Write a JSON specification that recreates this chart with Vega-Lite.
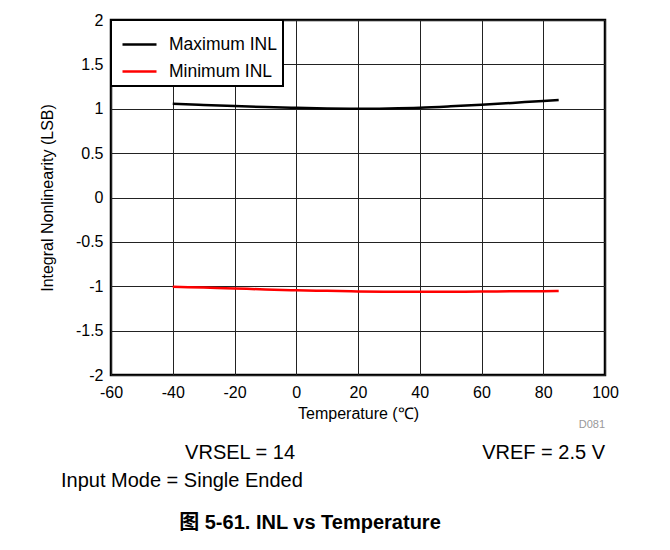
{
  "$schema": "https://vega.github.io/schema/vega-lite/v6.json",
  "width": 494,
  "height": 355,
  "autosize": {"type": "none"},
  "padding": {"left": 111, "top": 20, "right": 65, "bottom": 175},
  "background": "white",
  "config": {
    "font": "Liberation Sans",
    "view": {"stroke": "black", "strokeWidth": 2.5},
    "legend": {"strokeWidth": 2},
    "axis": {
      "grid": true,
      "gridColor": "#222222",
      "gridOpacity": 1,
      "gridWidth": 1,
      "ticks": false,
      "domain": false,
      "labelFontSize": 16,
      "labelColor": "black",
      "labelFont": "Liberation Sans",
      "titleFont": "Liberation Sans",
      "titleFontSize": 16,
      "titleFontWeight": "normal",
      "titleColor": "black",
      "labelExpr": "toString(datum.value)"
    },
    "text": {"font": "Liberation Sans, Noto Sans CJK SC", "color": "black"}
  },
  "datasets": {
    "inl": [
      {"t": -40, "v": 1.055, "s": "Maximum INL"},
      {"t": -30, "v": 1.042, "s": "Maximum INL"},
      {"t": -20, "v": 1.03, "s": "Maximum INL"},
      {"t": -10, "v": 1.019, "s": "Maximum INL"},
      {"t": 0, "v": 1.01, "s": "Maximum INL"},
      {"t": 10, "v": 1.003, "s": "Maximum INL"},
      {"t": 20, "v": 1.0, "s": "Maximum INL"},
      {"t": 30, "v": 1.004, "s": "Maximum INL"},
      {"t": 40, "v": 1.012, "s": "Maximum INL"},
      {"t": 50, "v": 1.027, "s": "Maximum INL"},
      {"t": 60, "v": 1.045, "s": "Maximum INL"},
      {"t": 70, "v": 1.066, "s": "Maximum INL"},
      {"t": 80, "v": 1.088, "s": "Maximum INL"},
      {"t": 85, "v": 1.098, "s": "Maximum INL"},
      {"t": -40, "v": -1.005, "s": "Minimum INL"},
      {"t": -30, "v": -1.015, "s": "Minimum INL"},
      {"t": -20, "v": -1.025, "s": "Minimum INL"},
      {"t": -10, "v": -1.036, "s": "Minimum INL"},
      {"t": 0, "v": -1.045, "s": "Minimum INL"},
      {"t": 10, "v": -1.052, "s": "Minimum INL"},
      {"t": 20, "v": -1.058, "s": "Minimum INL"},
      {"t": 30, "v": -1.062, "s": "Minimum INL"},
      {"t": 40, "v": -1.063, "s": "Minimum INL"},
      {"t": 50, "v": -1.062, "s": "Minimum INL"},
      {"t": 60, "v": -1.06, "s": "Minimum INL"},
      {"t": 70, "v": -1.057, "s": "Minimum INL"},
      {"t": 80, "v": -1.055, "s": "Minimum INL"},
      {"t": 85, "v": -1.053, "s": "Minimum INL"}
    ],
    "one": [{}]
  },
  "layer": [
    {
      "data": {"name": "inl"},
      "mark": {"type": "line", "strokeWidth": 2.5, "interpolate": "monotone"},
      "encoding": {
        "x": {
          "field": "t",
          "type": "quantitative",
          "scale": {"domain": [-60, 100], "nice": false, "zero": false},
          "axis": {"title": "Temperature (℃)", "values": [-60, -40, -20, 0, 20, 40, 60, 80, 100], "labelPadding": 9, "titlePadding": 5, "labelFlush": false}
        },
        "y": {
          "field": "v",
          "type": "quantitative",
          "scale": {"domain": [-2, 2], "nice": false},
          "axis": {"title": "Integral Nonlinearity (LSB)", "values": [-2, -1.5, -1, -0.5, 0, 0.5, 1, 1.5, 2], "labelPadding": 8, "titlePadding": 20, "labelFlush": false}
        },
        "color": {
          "field": "s",
          "type": "nominal",
          "scale": {"domain": ["Maximum INL", "Minimum INL"], "range": ["#000000", "#ff0000"]},
          "legend": {
            "title": null,
            "orient": "top-left",
            "offset": 0,
            "padding": 6,
            "strokeColor": "black",
            "fillColor": "white",
            "symbolType": "stroke",
            "symbolSize": 1156,
            "symbolStrokeWidth": 2.5,
            "symbolOffset": 4,
            "labelFontSize": 17.5,
            "labelFont": "Liberation Sans",
            "labelColor": "black",
            "labelOffset": 11,
            "rowPadding": -14,
            "labelLimit": 300
          }
        }
      }
    },
    {
      "data": {"name": "one"},
      "mark": {"type": "text", "fontSize": 11, "color": "#999999", "align": "right", "baseline": "middle"},
      "encoding": {
        "x": {"datum": 100, "type": "quantitative"},
        "y": {"datum": -2.563, "type": "quantitative"},
        "text": {"value": "D081"}
      }
    },
    {
      "data": {"name": "one"},
      "mark": {"type": "text", "fontSize": 20, "align": "center", "baseline": "middle"},
      "encoding": {
        "x": {"datum": -18.2, "type": "quantitative"},
        "y": {"datum": -2.879, "type": "quantitative"},
        "text": {"value": "VRSEL = 14"}
      }
    },
    {
      "data": {"name": "one"},
      "mark": {"type": "text", "fontSize": 20, "align": "right", "baseline": "middle"},
      "encoding": {
        "x": {"datum": 100, "type": "quantitative"},
        "y": {"datum": -2.879, "type": "quantitative"},
        "text": {"value": "VREF = 2.5 V"}
      }
    },
    {
      "data": {"name": "one"},
      "mark": {"type": "text", "fontSize": 20, "align": "left", "baseline": "middle"},
      "encoding": {
        "x": {"datum": -76.2, "type": "quantitative"},
        "y": {"datum": -3.194, "type": "quantitative"},
        "text": {"value": "Input Mode = Single Ended"}
      }
    },
    {
      "data": {"name": "one"},
      "mark": {"type": "text", "fontSize": 20, "fontWeight": "bold", "align": "center", "baseline": "middle"},
      "encoding": {
        "x": {"datum": 4.45, "type": "quantitative"},
        "y": {"datum": -3.668, "type": "quantitative"},
        "text": {"value": "图 5-61. INL vs Temperature"}
      }
    }
  ]
}
